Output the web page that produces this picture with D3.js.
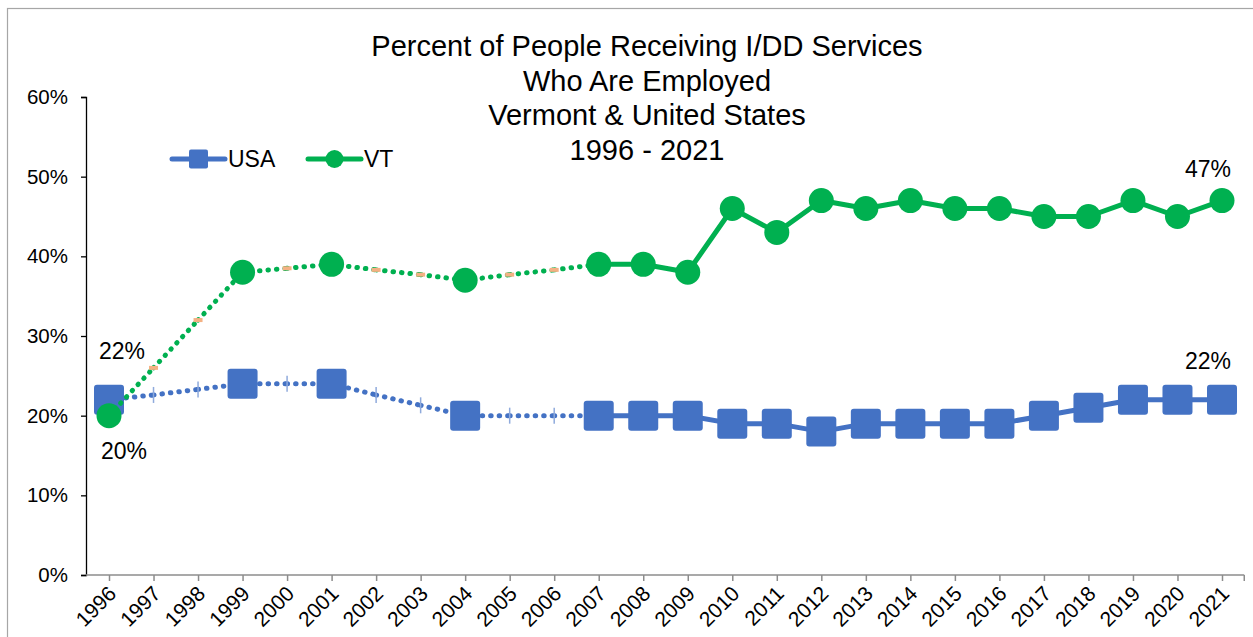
<!DOCTYPE html>
<html>
<head>
<meta charset="utf-8">
<script src="https://cdn.jsdelivr.net/npm/d3@7"></script>
<style>
  body { margin: 0; background: #fff; }
  svg text { font-family: "Liberation Sans", Arial, sans-serif; fill: #000; }
</style>
</head>
<body>
<svg id="chart" width="1253" height="637"></svg>
<script>
// ---- data ----
const years = ["1996","1997","1998","1999","2000","2001","2002","2003","2004","2005","2006","2007","2008","2009","2010","2011","2012","2013","2014","2015","2016","2017","2018","2019","2020","2021"];
const usaValues = [22, 22.6, 23.3, 24, 24, 24, 22.6, 21.3, 20, 20, 20, 20, 20, 20, 19, 19, 18, 19, 19, 19, 19, 20, 21, 22, 22, 22];
const vtValues  = [20, 26, 32, 38, 38.5, 39, 38.3, 37.7, 37, 37.7, 38.3, 39, 39, 38, 46, 43, 47, 46, 47, 46, 46, 45, 45, 47, 45, 47];
// years reported (big marker) vs. gap years (dotted line, tiny marker)
const reported = [1,0,0,1,0,1,0,0,1,0,0,1,1,1,1,1,1,1,1,1,1,1,1,1,1,1];
const yTicks = [0, 10, 20, 30, 40, 50, 60];
const titleLines = ["Percent of People Receiving I/DD Services", "Who Are Employed", "Vermont & United States", "1996 - 2021"];
const seriesNames = ["USA", "VT"];
const labelsUSA = [{i: 0, text: "22%"}, {i: 25, text: "22%"}];
const labelsVT  = [{i: 0, text: "20%"}, {i: 25, text: "47%"}];

const BLUE = "#4472C4", GREEN = "#00B050", ORANGE = "#F4B183";

const svg = d3.select("#chart");

// outer frame
svg.append("rect").attr("x", 7.5).attr("y", 8.5).attr("width", 1260).attr("height", 640)
  .attr("fill", "#fff").attr("stroke", "#a6a6a6").attr("stroke-width", 1.2);

const x = d3.scalePoint().domain(years).range([109, 1222]);
const y = d3.scaleLinear().domain([0, 60]).range([575, 97]);
const step = x.step();

// y axis
const yAxis = d3.axisLeft(y).tickValues(yTicks).tickFormat(d => d + "%").tickSize(5).tickPadding(13);
const yg = svg.append("g").attr("transform", "translate(86,0)").call(yAxis);
yg.select(".domain").attr("stroke", "#000").attr("stroke-width", 1.3);
yg.selectAll(".tick line").attr("stroke", "#000").attr("stroke-width", 1.3);
yg.selectAll(".tick text").attr("font-size", 20.5).attr("font-family", "Liberation Sans, Arial, sans-serif").attr("fill", "#000");

// x axis
const xAxis = d3.axisBottom(x).tickSizeOuter(0).tickSize(6).tickPadding(6);
const xg = svg.append("g").attr("transform", "translate(0,575)").call(xAxis);
xg.select(".domain").remove();
xg.append("line").attr("x1", 86).attr("x2", 1222 + step / 2).attr("y1", 0).attr("y2", 0)
  .attr("stroke", "#8c8c8c").attr("stroke-width", 1.5);
xg.append("line").attr("x1", 1222 + step / 2).attr("x2", 1222 + step / 2).attr("y1", 0).attr("y2", 6)
  .attr("stroke", "#8c8c8c").attr("stroke-width", 1.5);
xg.selectAll(".tick line").attr("stroke", "#8c8c8c").attr("stroke-width", 1.5);
xg.selectAll(".tick text")
  .attr("font-size", 21).attr("font-family", "Liberation Sans, Arial, sans-serif").attr("fill", "#000")
  .attr("text-anchor", "end").attr("dy", null).attr("y", 0)
  .attr("transform", "translate(8,20) rotate(-45)");

// title
const title = svg.append("text").attr("text-anchor", "middle").attr("font-size", 29);
titleLines.forEach((t, i) => {
  title.append("tspan").attr("x", 647).attr("y", 56 + i * 34.5).text(t);
});

// series drawing
function drawSeries(vals, color, isSquare, smallMarker) {
  const g = svg.append("g");
  for (let i = 0; i < vals.length - 1; i++) {
    const dotted = !(reported[i] && reported[i + 1]);
    g.append("line")
      .attr("x1", x(years[i])).attr("y1", y(vals[i]))
      .attr("x2", x(years[i + 1])).attr("y2", y(vals[i + 1]))
      .attr("stroke", color).attr("stroke-width", dotted ? 5 : 5)
      .attr("stroke-linecap", "round")
      .attr("stroke-dasharray", dotted ? "0.5 8" : null);
  }
  vals.forEach((v, i) => {
    const cx = x(years[i]), cy = y(v);
    if (reported[i]) {
      if (isSquare) {
        g.append("rect").attr("x", cx - 15).attr("y", cy - 15).attr("width", 30).attr("height", 30)
          .attr("rx", 3).attr("fill", color);
      } else {
        g.append("circle").attr("cx", cx).attr("cy", cy).attr("r", 12.5).attr("fill", color);
      }
    } else {
      if (smallMarker === "tick") {
        g.append("line").attr("x1", cx).attr("x2", cx).attr("y1", cy - 8).attr("y2", cy + 8)
          .attr("stroke", "#8faadc").attr("stroke-width", 1.5);
      } else {
        g.append("rect").attr("x", cx - 4.5).attr("y", cy - 2).attr("width", 9).attr("height", 4)
          .attr("fill", ORANGE);
      }
    }
  });
}
drawSeries(usaValues, BLUE, true, "tick");
drawSeries(vtValues, GREEN, false, "dash");

// data labels
labelsUSA.forEach(l => {
  svg.append("text").attr("text-anchor", "middle").attr("font-size", 23)
    .attr("x", x(years[l.i]) + (l.i === 0 ? 13 : -14))
    .attr("y", y(usaValues[l.i]) - (l.i === 0 ? 41 : 31))
    .text(l.text);
});
labelsVT.forEach(l => {
  svg.append("text").attr("text-anchor", "middle").attr("font-size", 23)
    .attr("x", x(years[l.i]) + (l.i === 0 ? 15 : -14))
    .attr("y", l.i === 0 ? y(vtValues[l.i]) + 43 : y(vtValues[l.i]) - 24)
    .text(l.text);
});

// legend
const legend = svg.append("g");
const legendItems = [
  {name: seriesNames[0], color: BLUE, x0: 172, square: true},
  {name: seriesNames[1], color: GREEN, x0: 308, square: false}
];
legendItems.forEach(it => {
  const ly = 159;
  legend.append("line").attr("x1", it.x0).attr("x2", it.x0 + 53).attr("y1", ly).attr("y2", ly)
    .attr("stroke", it.color).attr("stroke-width", 5).attr("stroke-linecap", "round");
  if (it.square) {
    legend.append("rect").attr("x", it.x0 + 26.5 - 9.5).attr("y", ly - 9.5).attr("width", 19).attr("height", 19)
      .attr("rx", 2).attr("fill", it.color);
  } else {
    legend.append("circle").attr("cx", it.x0 + 26.5).attr("cy", ly).attr("r", 9).attr("fill", it.color);
  }
  legend.append("text").attr("x", it.x0 + 56).attr("y", ly + 8).attr("font-size", 23).text(it.name);
});
</script>
</body>
</html>
